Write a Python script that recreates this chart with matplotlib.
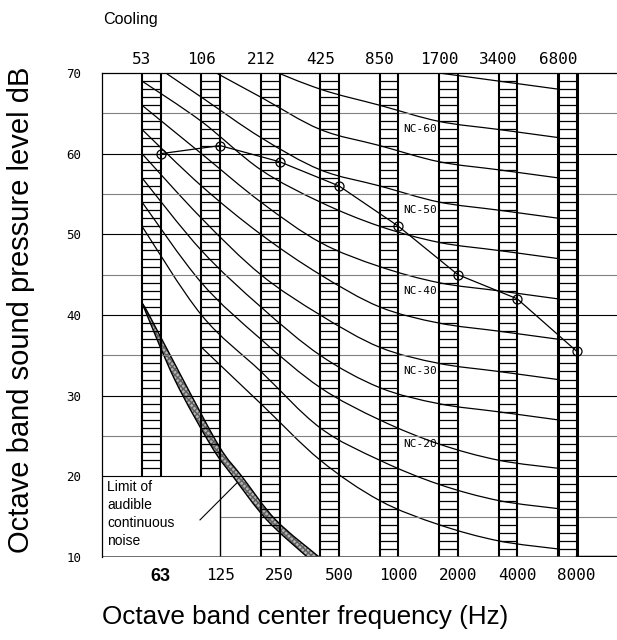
import numpy as np
import matplotlib.pyplot as plt
from matplotlib.path import Path
from matplotlib.patches import PathPatch

# octave bands
top_labels = ["53", "106", "212", "425", "850", "1700", "3400", "6800"]
bottom_labels = ["63", "125", "250", "500", "1000", "2000", "4000", "8000"]

# NC curves, dB at 63 ... 8000 Hz
nc_levels = [15, 20, 25, 30, 35, 40, 45, 50, 55, 60, 65, 70]
nc_values = [
    [np.nan, 36, 29, 22, 17, 14, 12, 11],
    [51, 40, 33, 26, 22, 19, 17, 16],
    [54, 44, 37, 31, 27, 24, 22, 21],
    [57, 48, 41, 35, 31, 29, 28, 27],
    [60, 52, 45, 40, 36, 34, 33, 32],
    [63, 56, 50, 45, 41, 39, 38, 37],
    [66, 60, 54, 49, 46, 44, 43, 42],
    [69, 64, 58, 54, 51, 49, 48, 47],
    [72, 67, 62, 58, 56, 54, 53, 52],
    [75, 71, 67, 63, 61, 59, 58, 57],
    [78, 75, 71, 68, 66, 64, 63, 62],
    [81, 79, 75, 72, 71, 70, 69, 68],
]
nc_labelled = [20, 30, 40, 50, 60]

# measured cooling spectrum
cooling = [60, 61, 59, 56, 51, 45, 42, 35.5]

# limit of audible continuous noise (x in octaves from 53 Hz band, dB)
limit_lo_x = [0, 0.55, 1.17, 1.53, 2.10, 2.78]
limit_lo_db = [41.5, 32, 23.7, 20, 14.6, 10]
limit_hi_x = [0, 0.12, 0.69, 1.30, 1.68, 2.25, 2.98]
limit_hi_db = [41.5, 40, 32, 23.7, 20, 14.6, 10]


def smooth(xs, ys):
    pts = np.column_stack([xs, ys])
    pts = pts[~np.isnan(pts).any(axis=1)]
    verts = [pts[0]]
    codes = [Path.MOVETO]
    for i in range(len(pts) - 1):
        p0 = pts[i - 1] if i > 0 else pts[i]
        p1, p2 = pts[i], pts[i + 1]
        p3 = pts[i + 2] if i + 2 < len(pts) else pts[i + 1]
        verts += [p1 + (p2 - p0) / 6, p2 - (p3 - p1) / 6, p2]
        codes += [Path.CURVE4] * 3
    return verts, codes


fig = plt.figure(figsize=(6.17, 6.40), dpi=100)
ax = fig.add_axes([102/617, 1-557/640, 515/617, 484/640])

bx = np.arange(len(bottom_labels))
bw = 0.315
xmin, xmax = -0.673, 7.993
ax.set_xlim(xmin, xmax)
ax.set_ylim(10, 70)

# grid
for y in range(15, 70, 5):
    c = "black" if y % 10 == 0 else "#808080"
    if y == 15:
        ax.plot([bx[1] + bw, xmax], [y, y], color=c, lw=0.8)
    else:
        ax.plot([xmin, xmax], [y, y], color=c, lw=0.8)

# ladders
for i in bx:
    ybot = 20 if i < 2 else 10
    lw = 2.2 if i == 7 else 1.5
    ax.plot([i, i], [ybot, 70], color="black", lw=lw)
    ax.plot([i + bw, i + bw], [ybot, 70], color="black", lw=lw)
    ax.hlines(np.arange(ybot + 1, 70), i, i + bw, color="black", lw=0.9)

# box for the limit label
ax.plot([bx[1] + bw, bx[1] + bw], [10, 20], color="black", lw=1.0)
ax.plot([xmin, bx[7] + bw], [10, 10], color="#555555", lw=1.2)
ax.plot([bx[7] + bw, xmax], [10, 10], color="black", lw=2.5)

# NC curves
for lev, vals in zip(nc_levels, nc_values):
    v, c = smooth(bx, np.array(vals, dtype=float))
    ax.add_patch(PathPatch(Path(v, c), fill=False, edgecolor="black", lw=0.9))
    if lev in nc_labelled:
        ax.text(4.68, vals[4] + 2, f"NC-{lev}", ha="center", va="center",
                fontsize=8, family="DejaVu Sans Mono")

# limit band
v1, c1 = smooth(limit_lo_x, limit_lo_db)
v2, c2 = smooth(limit_hi_x[::-1], limit_hi_db[::-1])
c2[0] = Path.LINETO
band = Path(v1 + v2 + [v1[0]], c1 + c2 + [Path.CLOSEPOLY])
ax.add_patch(PathPatch(band, facecolor="#b4b4b4", edgecolor="#606060",
                       hatch="xxxxxx", lw=0))
ax.add_patch(PathPatch(band, fill=False, edgecolor="black", lw=1.0))
ax.plot([0.976, 1.599], [14.6, 19.2], color="black", lw=0.8)
ax.text(-0.59, 19.55, "Limit of\naudible\ncontinuous\nnoise", ha="left",
        va="top", fontsize=10, family="Liberation Sans", linespacing=1.35)

# cooling spectrum
ax.plot(bx + bw, cooling, color="black", lw=0.9, marker="o", ms=6.5,
        mfc="none", mec="black", mew=0.9)

for i, lab in enumerate(top_labels):
    ax.text(i, 70.75, lab, ha="center", va="bottom", fontsize=11.5,
            family="DejaVu Sans Mono")

for s in ["right", "bottom"]:
    ax.spines[s].set_visible(False)
ax.spines["left"].set_linewidth(0.9)
ax.spines["top"].set_linewidth(0.9)

ax.set_yticks(range(10, 71, 10))
ax.set_yticklabels([str(t) for t in range(10, 71, 10)], family="DejaVu Sans Mono",
                   fontsize=9)
ax.tick_params(axis="y", length=0, pad=15)
ax.set_xticks(bx + bw)
ax.set_xticklabels(bottom_labels, family="DejaVu Sans Mono", fontsize=11.5)
ax.tick_params(axis="x", length=0, pad=8)
t63 = ax.get_xticklabels()[0]
t63.set_family("Liberation Sans")
t63.set_fontweight("bold")
t63.set_fontsize(13)

fig.text(103/617, 1-12/640, "Cooling", ha="left", va="top", fontsize=11.6,
         family="Liberation Sans")
fig.text(21/617, 0.516, "Octave band sound pressure level dB", rotation=90,
         ha="center", va="center", fontsize=21, family="Liberation Sans")
fig.text(0.495, 1-617/640, "Octave band center frequency (Hz)", ha="center",
         va="center", fontsize=18.8, family="Liberation Sans")

fig.savefig("out.png", dpi=100)
